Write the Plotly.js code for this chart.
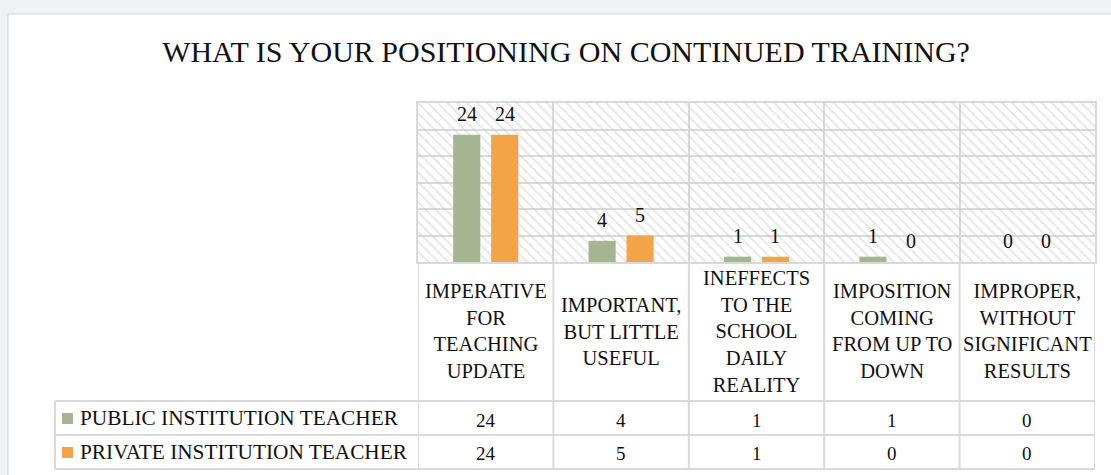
<!DOCTYPE html>
<html>
<head>
<meta charset="utf-8">
<script src="https://cdn.plot.ly/plotly-3.0.1.min.js"></script>
<style>html,body{margin:0;padding:0;background:#eef2f5;}#chart{width:1111px;height:475px;}</style>
</head>
<body>
<div id="chart"></div>
<script>
const chartTitle = 'WHAT IS YOUR POSITIONING ON CONTINUED TRAINING?';
const categories = [
  'IMPERATIVE<br>FOR<br>TEACHING<br>UPDATE',
  'IMPORTANT,<br>BUT LITTLE<br>USEFUL',
  'INEFFECTS<br>TO THE<br>SCHOOL<br>DAILY<br>REALITY',
  'IMPOSITION<br>COMING<br>FROM UP TO<br>DOWN',
  'IMPROPER,<br>WITHOUT<br>SIGNIFICANT<br>RESULTS'
];
const seriesNames = ['PUBLIC INSTITUTION TEACHER', 'PRIVATE INSTITUTION TEACHER'];
const publicValues = [24, 4, 1, 1, 0];
const privateValues = [24, 5, 1, 0, 0];
const yMax = 30;
const yStep = 5;

const colors = ['#a5b592', '#f3a447'];
const seriesValues = [publicValues, privateValues];
const barOffsets = [-0.24, 0.04];
const barWidth = 0.2;
const lineColor = '#d9d9d9';
const font = 'Liberation Serif, Times New Roman, serif';

// pixel helpers for layout (plot area: x 418..1095, y 103..262)
const L = 418, R = 1095, T = 103, B = 262;
const px2x = p => (p - L) / (R - L);
const px2y = p => (B - p) / (B - T);

const traces = [];
// hatched plot background
traces.push({
  type: 'bar', x: categories, y: categories.map(() => yMax), width: 1,
  marker: {color: 'rgba(0,0,0,0)', line: {width: 0},
    pattern: {shape: '\\', fgcolor: '#cacaca', size: 7, solidity: 0.25, fillmode: 'overlay'}},
  hoverinfo: 'skip', showlegend: false
});
seriesValues.forEach((vals, s) => {
  traces.push({
    type: 'bar', name: seriesNames[s], x: categories, y: vals,
    width: barWidth, offset: barOffsets[s],
    marker: {color: colors[s], line: {width: 0}},
    showlegend: false, hoverinfo: 'x+y'
  });
});

const annotations = [];
// data labels above bars
seriesValues.forEach((vals, s) => {
  vals.forEach((v, i) => {
    annotations.push({
      x: i + barOffsets[s] + barWidth / 2, y: v, xref: 'x', yref: 'y',
      text: String(v), showarrow: false, yanchor: 'middle', yshift: 21,
      font: {family: font, size: 20, color: '#111'}
    });
  });
});
// category header cells
categories.forEach((c, i) => {
  annotations.push({
    x: i, y: px2y(331), xref: 'x', yref: 'paper', text: c, showarrow: false,
    xanchor: 'center', yanchor: 'middle', align: 'center',
    font: {family: font, size: 20.5, color: '#111'}
  });
});
// table rows
const rowCenters = [418, 452];
seriesValues.forEach((vals, s) => {
  annotations.push({
    x: px2x(78), y: px2y(rowCenters[s]), xref: 'paper', yref: 'paper',
    text: seriesNames[s], showarrow: false, xanchor: 'left', yanchor: 'middle',
    font: {family: font, size: 21.3, color: '#111'}
  });
  vals.forEach((v, i) => {
    annotations.push({
      x: i, y: px2y(rowCenters[s] + 2), xref: 'x', yref: 'paper', text: String(v),
      showarrow: false, xanchor: 'center', yanchor: 'middle',
      font: {family: font, size: 19, color: '#111'}
    });
  });
});

const shapes = [];
// white chart panel
shapes.push({type: 'rect', xref: 'paper', yref: 'paper', layer: 'below',
  x0: px2x(8), x1: px2x(1130), y0: px2y(500), y1: px2y(14),
  fillcolor: '#ffffff', line: {color: '#d3d8dc', width: 1}});
// table vertical lines
for (let i = 0; i <= categories.length; i++) {
  shapes.push({type: 'line', xref: 'x', yref: 'paper', x0: i - 0.5, x1: i - 0.5,
    y0: 0, y1: px2y(469), line: {color: lineColor, width: 2}});
}
shapes.push({type: 'line', xref: 'paper', yref: 'paper', x0: px2x(55), x1: px2x(55),
  y0: px2y(401), y1: px2y(469), line: {color: lineColor, width: 2}});
// table horizontal lines
[401, 435, 469].forEach(py => {
  shapes.push({type: 'line', xref: 'paper', yref: 'paper', x0: px2x(55), x1: 1,
    y0: px2y(py), y1: px2y(py), line: {color: lineColor, width: 2}});
});
// legend keys
rowCenters.forEach((py, s) => {
  shapes.push({type: 'rect', xref: 'paper', yref: 'paper',
    x0: px2x(62), x1: px2x(73), y0: px2y(py + 6), y1: px2y(py - 5),
    fillcolor: colors[s], line: {width: 0}});
});

const layout = {
  width: 1111, height: 475,
  margin: {l: L, r: 1111 - R, t: T, b: 475 - B, pad: 0},
  paper_bgcolor: '#eef2f5', plot_bgcolor: 'rgba(0,0,0,0)',
  title: {text: chartTitle, x: 566 / 1111, xanchor: 'center', y: 1 - 51 / 475, yanchor: 'middle',
    font: {family: font, size: 30, color: '#111'}},
  barmode: 'overlay',
  xaxis: {type: 'category', range: [-0.5, categories.length - 0.5], showticklabels: false,
    tickson: 'boundaries', ticks: '', showgrid: true, gridcolor: lineColor, gridwidth: 2,
    showline: true, mirror: true, linecolor: lineColor, linewidth: 2, zeroline: false, fixedrange: true},
  yaxis: {range: [0, yMax], dtick: yStep, showticklabels: false, showgrid: true,
    gridcolor: lineColor, gridwidth: 2, zeroline: false,
    showline: true, mirror: true, linecolor: lineColor, linewidth: 2, fixedrange: true},
  annotations: annotations, shapes: shapes, showlegend: false
};

Plotly.newPlot('chart', traces, layout, {displayModeBar: false, staticPlot: true});
</script>
</body>
</html>
